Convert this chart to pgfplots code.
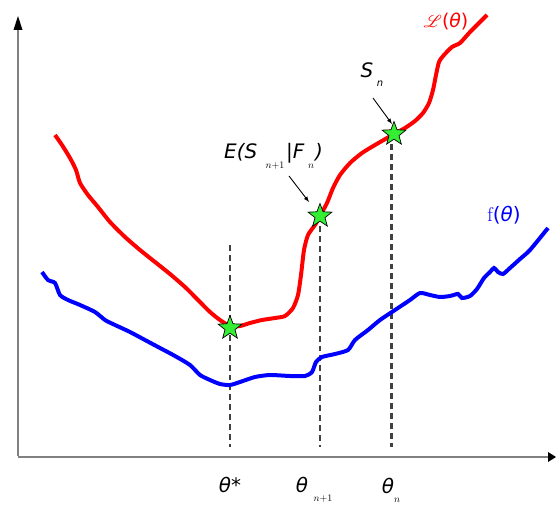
\documentclass[border=0pt]{standalone}
\usepackage{pgfplots}
\pgfplotsset{compat=1.18}
\usepackage{mathrsfs}
\usepackage{fontspec}
\newfontfamily\lab{DejaVu Sans}
\definecolor{starg}{HTML}{33EE33}
\definecolor{dgray}{HTML}{404040}
\definecolor{axgray}{HTML}{808080}
\pgfdeclareplotmark{fstar}{%
 \pgfpathmoveto{\pgfqpointpolar{90}{\pgfplotmarksize}}%
 \pgfpathlineto{\pgfqpointpolar{126}{0.42\pgfplotmarksize}}%
 \pgfpathlineto{\pgfqpointpolar{162}{\pgfplotmarksize}}%
 \pgfpathlineto{\pgfqpointpolar{198}{0.42\pgfplotmarksize}}%
 \pgfpathlineto{\pgfqpointpolar{234}{\pgfplotmarksize}}%
 \pgfpathlineto{\pgfqpointpolar{270}{0.42\pgfplotmarksize}}%
 \pgfpathlineto{\pgfqpointpolar{306}{\pgfplotmarksize}}%
 \pgfpathlineto{\pgfqpointpolar{342}{0.42\pgfplotmarksize}}%
 \pgfpathlineto{\pgfqpointpolar{18}{\pgfplotmarksize}}%
 \pgfpathlineto{\pgfqpointpolar{54}{0.42\pgfplotmarksize}}%
 \pgfpathclose
 \pgfusepathqfillstroke}
\begin{document}
\begin{tikzpicture}
\begin{axis}[
  scale only axis, width=556bp, height=506bp,
  xmin=0, xmax=556, ymin=0, ymax=506, y dir=reverse,
  hide axis, clip=false,
]
% axes
\draw[axgray, line width=1.6pt] (axis cs:18,456) -- (axis cs:18,24);
\draw[axgray, line width=1.6pt] (axis cs:18,457) -- (axis cs:550,457);
\fill[black] (axis cs:18,16) -- (axis cs:13.5,30) -- (axis cs:22.5,30) -- cycle;
\fill[black] (axis cs:556,457) -- (axis cs:548,452) -- (axis cs:548,462) -- cycle;
% dashed lines
\addplot[dgray, line width=3pt, dash pattern=on 6pt off 4pt] coordinates {(230,245) (230,447)};
\addplot[dgray, line width=3pt, dash pattern=on 6pt off 4pt] coordinates {(320,216) (320,447)};
\addplot[dgray, line width=3pt, dash pattern=on 6pt off 4pt] coordinates {(391,134) (391,447)};
% red curve
\addplot[red, line width=4pt, smooth, tension=0.4] coordinates {
(55,135) (62,145) (70,158) (76,170) (80,183) (88,195) (98,207) (110,222) (125,237)
(140,250) (155,262) (170,274) (185,287) (198,300) (210,312) (220,320) (230,326)
(240,326) (250,323) (262,320) (275,318) (285,316) (293,308) (298,295) (301,275)
(304,250) (308,235) (315,225) (320,216) (327,203) (333,188) (340,175) (350,163)
(362,153) (375,145) (394,134) (405,128) (415,121) (423,113) (429,103) (433,90)
(436,75) (439,62) (444,55) (452,47) (460,43) (470,32) (480,22) (487,15)};
% blue curve
\addplot[blue, line width=4pt, smooth, tension=0.4] coordinates {
(42,272) (48,280) (55,283) (60,295) (68,300) (80,305) (95,312) (105,320) (115,325)
(130,332) (145,340) (160,348) (175,356) (190,365) (200,375) (210,380) (220,384)
(230,385) (240,382) (255,377) (270,375) (290,376) (305,376) (312,372) (316,362)
(322,357) (335,354) (348,350) (355,340) (368,330) (380,320) (395,310) (410,300)
(420,293) (430,295) (440,297) (450,296) (458,294) (462,298) (470,296) (477,289)
(484,278) (490,272) (494,268) (498,272) (503,274) (510,268) (520,259) (530,250)
(548,228)};
% stars
\addplot[only marks, mark=fstar, mark size=12.5pt, mark options={fill=starg, draw=black, line width=0.7pt}]
 coordinates {(230,328) (320,216) (394,134)};
% annotations
\draw[-latex, line width=0.9pt] (axis cs:289,176) -- (axis cs:309,202);
\draw[-latex, line width=0.9pt] (axis cs:373,98) -- (axis cs:392,124);
\node[anchor=base west, inner sep=0pt] at (axis cs:224,158) {\lab\itshape\fontsize{20}{22}\selectfont E(S};
\node[inner sep=0pt] at (axis cs:275,166) {\fontsize{10}{12}\selectfont$n{+}1$};
\node[anchor=base west, inner sep=0pt] at (axis cs:286,158) {\lab\itshape\fontsize{20}{22}\selectfont |F};
\node[inner sep=0pt] at (axis cs:311,166) {\fontsize{10}{12}\selectfont$n$};
\node[anchor=base west, inner sep=0pt] at (axis cs:315,158) {\lab\itshape\fontsize{20}{22}\selectfont )};
\node[inner sep=0pt] at (axis cs:367,70) {\lab\itshape\fontsize{20}{22}\selectfont S};
\node[inner sep=0pt] at (axis cs:380,84) {\lab\itshape\fontsize{10}{12}\selectfont n};
\node[text=red, inner sep=0pt] at (axis cs:446,21) {\fontsize{19}{22}\selectfont$\mathscr{L}${\lab(\itshape θ\upshape)}};
\node[text=blue, inner sep=0pt] at (axis cs:504,215) {\fontsize{20}{22}\selectfont f{\lab(\itshape θ\upshape)}};
\node[inner sep=0pt] at (axis cs:230,485) {\lab\itshape\fontsize{20}{22}\selectfont θ*};
\node[inner sep=0pt] at (axis cs:302,485) {\lab\itshape\fontsize{20}{22}\selectfont θ};
\node[inner sep=0pt] at (axis cs:323,499) {\fontsize{10}{12}\selectfont$n{+}1$};
\node[inner sep=0pt] at (axis cs:388,486) {\lab\itshape\fontsize{20}{22}\selectfont θ};
\node[inner sep=0pt] at (axis cs:397,500) {\fontsize{10}{12}\selectfont$n$};
\end{axis}
\pgfresetboundingbox
\path[use as bounding box] (current axis.south west) rectangle (current axis.north east);
\end{tikzpicture}
\end{document}
